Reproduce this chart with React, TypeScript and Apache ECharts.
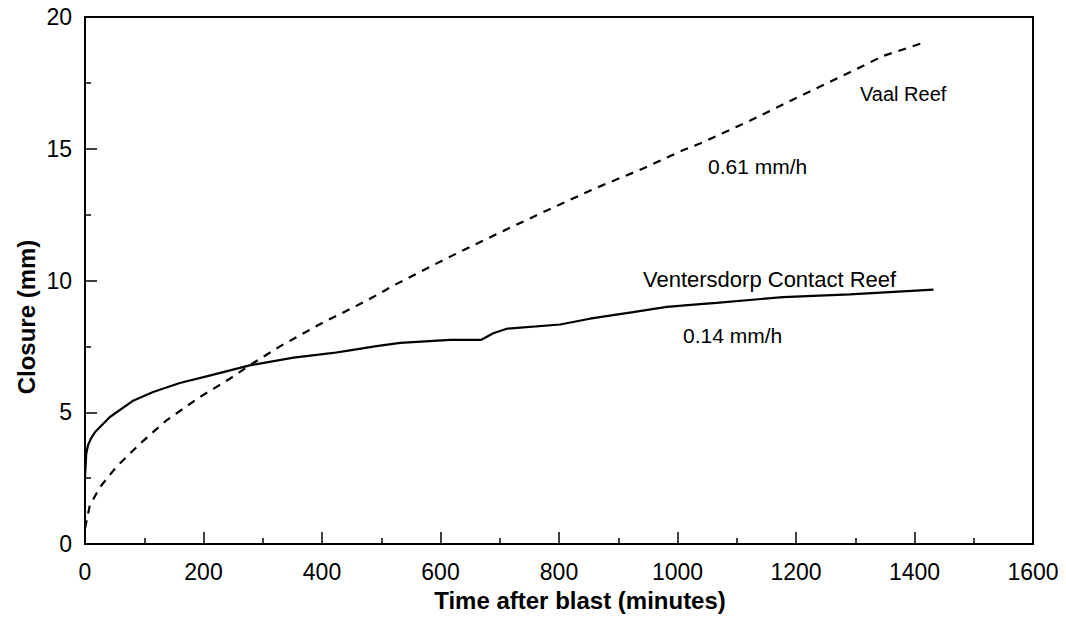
import React, { useEffect, useRef } from "react";
import * as echarts from "echarts";

const xTicks = [0, 200, 400, 600, 800, 1000, 1200, 1400, 1600];
const yTicks = [0, 5, 10, 15, 20];

// Vaal Reef (dashed) — time (min), closure (mm)
const vaalTime = [0, 8, 25, 53, 93, 138, 194, 245, 278, 329, 397, 453, 487, 520, 605, 689, 773, 858, 942, 1010, 1038, 1122, 1207, 1291, 1347, 1412];
const vaalClosure = [0.6, 1.45, 2.15, 2.93, 3.81, 4.7, 5.58, 6.28, 6.78, 7.5, 8.35, 8.98, 9.38, 9.8, 10.78, 11.7, 12.59, 13.47, 14.25, 14.95, 15.2, 16.06, 17.0, 17.9, 18.52, 19.0];

// Ventersdorp Contact Reef (solid)
const vcrTime = [0, 2, 5, 10, 17, 42, 82, 115, 160, 205, 278, 352, 419, 447, 492, 532, 616, 669, 689, 712, 802, 852, 925, 982, 1038, 1066, 1178, 1291, 1432];
const vcrClosure = [2.5, 3.4, 3.75, 4.0, 4.25, 4.82, 5.45, 5.77, 6.11, 6.36, 6.78, 7.07, 7.25, 7.35, 7.51, 7.63, 7.75, 7.75, 8.0, 8.17, 8.33, 8.55, 8.8, 9.0, 9.1, 9.15, 9.37, 9.47, 9.65];

const FONT = "'Liberation Sans', Arial, Helvetica, sans-serif";

export default function App() {
  const ref = useRef<HTMLDivElement>(null);
  useEffect(() => {
    document.body.style.margin = "0";
    const chart = echarts.init(ref.current!, undefined, { renderer: "svg" });
    const vaal = vaalTime.map((t, i) => [t, vaalClosure[i]]);
    const vcr = vcrTime.map((t, i) => [t, vcrClosure[i]]);
    chart.setOption({
      animation: false,
      backgroundColor: "#fff",
      textStyle: { fontFamily: FONT, color: "#000" },
      grid: {
        left: 85,
        right: 33,
        top: 17,
        bottom: 75,
        show: true,
        borderColor: "#000",
        borderWidth: 2,
        backgroundColor: "transparent",
      },
      xAxis: {
        type: "value",
        min: xTicks[0],
        max: xTicks[xTicks.length - 1],
        interval: 200,
        axisLine: { show: true, lineStyle: { color: "#000", width: 2 } },
        axisTick: { show: true, inside: true, length: 12, lineStyle: { color: "#000", width: 1.5 } },
        minorTick: { show: true, splitNumber: 2, length: 6, lineStyle: { color: "#000", width: 1.5 } },
        splitLine: { show: false },
        axisLabel: { color: "#000", fontSize: 23, fontFamily: FONT, margin: 16, formatter: (v: number) => String(v) },
      },
      yAxis: {
        type: "value",
        min: yTicks[0],
        max: yTicks[yTicks.length - 1],
        interval: 5,
        axisLine: { show: true, lineStyle: { color: "#000", width: 2 } },
        axisTick: { show: true, inside: true, length: 12, lineStyle: { color: "#000", width: 1.5 } },
        minorTick: { show: true, splitNumber: 2, length: 6, lineStyle: { color: "#000", width: 1.5 } },
        splitLine: { show: false },
        axisLabel: { color: "#000", fontSize: 23, fontFamily: FONT, margin: 13, padding: [16, 0, 0, 0], formatter: (v: number) => String(v) },
      },
      series: [
        {
          name: "Vaal Reef",
          type: "line",
          data: vaal,
          showSymbol: false,
          lineStyle: { color: "#000", width: 2.2, type: [8, 7] },
        },
        {
          name: "Ventersdorp Contact Reef",
          type: "line",
          data: vcr,
          showSymbol: false,
          lineStyle: { color: "#000", width: 2.2, type: "solid" },
        },
      ],
      graphic: [
        { type: "text", left: 860, top: 84, style: { text: "Vaal Reef", fontSize: 20, fontFamily: FONT, fill: "#000" } },
        { type: "text", left: 708, top: 156, style: { text: "0.61 mm/h", fontSize: 21, fontFamily: FONT, fill: "#000" } },
        { type: "text", left: 643, top: 268, style: { text: "Ventersdorp Contact Reef", fontSize: 22, fontFamily: FONT, fill: "#000" } },
        { type: "text", left: 683, top: 325, style: { text: "0.14 mm/h", fontSize: 21, fontFamily: FONT, fill: "#000" } },
        {
          type: "text",
          x: 580,
          y: 600,
          style: { text: "Time after blast (minutes)", fontSize: 24, fontWeight: "bold", fontFamily: FONT, fill: "#000", align: "center", verticalAlign: "middle" },
        },
        {
          type: "text",
          x: 26,
          y: 317,
          rotation: Math.PI / 2,
          style: { text: "Closure (mm)", fontSize: 24, fontWeight: "bold", fontFamily: FONT, fill: "#000", align: "center", verticalAlign: "middle" },
        },
      ],
    });
    return () => chart.dispose();
  }, []);
  return <div ref={ref} style={{ position: "absolute", left: 0, top: 0, width: 1066, height: 619 }} />;
}
